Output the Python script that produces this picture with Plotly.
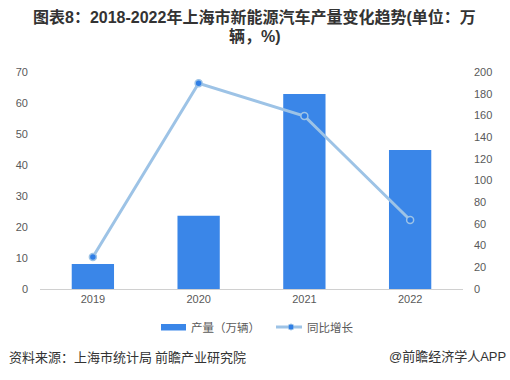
import plotly.graph_objects as go

years = ["2019", "2020", "2021", "2022"]
output = [8.1, 23.6, 62.9, 44.8]
growth = [29.5, 189.6, 159.4, 63.6]

left_ticks = [0, 10, 20, 30, 40, 50, 60, 70]
right_ticks = [0, 20, 40, 60, 80, 100, 120, 140, 160, 180, 200]

CJK = "Noto Sans CJK SC"
MIX = "Liberation Sans, Noto Sans CJK SC"
BAR_C = "#3a86e8"
LINE_C = "#9dc3e6"
DOT_C = "#2f7ee6"

W, H, L, R, T, B = 510, 380, 40, 47, 72, 91
plot_w = W - L - R
plot_h = H - T - B

def px(p):
    return (p - L) / plot_w

def py(p):
    return (H - B - p) / plot_h

fig = go.Figure()
fig.add_trace(go.Bar(
    x=years, y=output, name="产量（万辆）",
    marker=dict(color=BAR_C, line=dict(width=0)),
    width=0.4, yaxis="y", showlegend=False,
))
fig.add_trace(go.Scatter(
    x=years, y=growth, name="同比增长", mode="lines+markers",
    line=dict(color=LINE_C, width=3),
    marker=dict(size=7, color=DOT_C, line=dict(color=LINE_C, width=1.5)),
    yaxis="y2", showlegend=False,
))

# custom legend (decorative swatches)
shapes = [
    dict(type="rect", xref="paper", yref="paper",
         x0=px(161), x1=px(186), y0=py(330.5), y1=py(324),
         fillcolor=BAR_C, line=dict(width=0)),
    dict(type="line", xref="paper", yref="paper",
         x0=px(276), x1=px(302), y0=py(327), y1=py(327),
         line=dict(color=LINE_C, width=3)),
    dict(type="circle", xref="paper", yref="paper",
         x0=px(288), x1=px(294), y0=py(330), y1=py(324),
         fillcolor=DOT_C, line=dict(color=LINE_C, width=1)),
]

annotations = [
    dict(text="<b>图表8：2018-2022年上海市新能源汽车产量变化趋势(单位：万</b>",
         xref="paper", yref="paper", x=px(255), y=py(17),
         xanchor="center", yanchor="middle", showarrow=False,
         font=dict(size=16, color="#333333", family=MIX)),
    dict(text="<b>辆，%)</b>",
         xref="paper", yref="paper", x=px(255), y=py(37),
         xanchor="center", yanchor="middle", showarrow=False,
         font=dict(size=16, color="#333333", family=MIX)),
    dict(text="产量（万辆）",
         xref="paper", yref="paper", x=px(189), y=py(327),
         xanchor="left", yanchor="middle", showarrow=False,
         font=dict(size=11.5, color="#595959", family=CJK)),
    dict(text="同比增长",
         xref="paper", yref="paper", x=px(305), y=py(327),
         xanchor="left", yanchor="middle", showarrow=False,
         font=dict(size=11.5, color="#595959", family=CJK)),
    dict(text="资料来源：上海市统计局 前瞻产业研究院",
         xref="paper", yref="paper", x=px(7), y=py(356),
         xanchor="left", yanchor="middle", showarrow=False,
         font=dict(size=13, color="#333333", family=CJK)),
    dict(text="@前瞻经济学人APP",
         xref="paper", yref="paper", x=px(508), y=py(356),
         xanchor="right", yanchor="middle", showarrow=False,
         font=dict(size=13, color="#333333", family=MIX)),
]

fig.update_layout(
    width=W, height=H,
    margin=dict(l=L, r=R, t=T, b=B),
    paper_bgcolor="white", plot_bgcolor="white",
    font=dict(family=MIX, color="#595959", size=11),
    showlegend=False,
    xaxis=dict(
        showgrid=False, showline=True, linecolor="#d0d0d0", linewidth=1,
        ticks="", tickfont=dict(size=11, color="#595959", family=MIX),
    ),
    yaxis=dict(
        range=[0, 70], tickvals=left_ticks, showgrid=False, zeroline=False,
        showline=False, ticks="", tickfont=dict(size=11, color="#595959", family=MIX),
        ticklabelstandoff=11,
    ),
    yaxis2=dict(
        range=[0, 200], tickvals=right_ticks, overlaying="y", side="right",
        showgrid=False, zeroline=False, showline=False, ticks="",
        tickfont=dict(size=11, color="#595959", family=MIX), ticklabelstandoff=10,
    ),
    shapes=shapes,
    annotations=annotations,
)

fig.write_html("out.html")
